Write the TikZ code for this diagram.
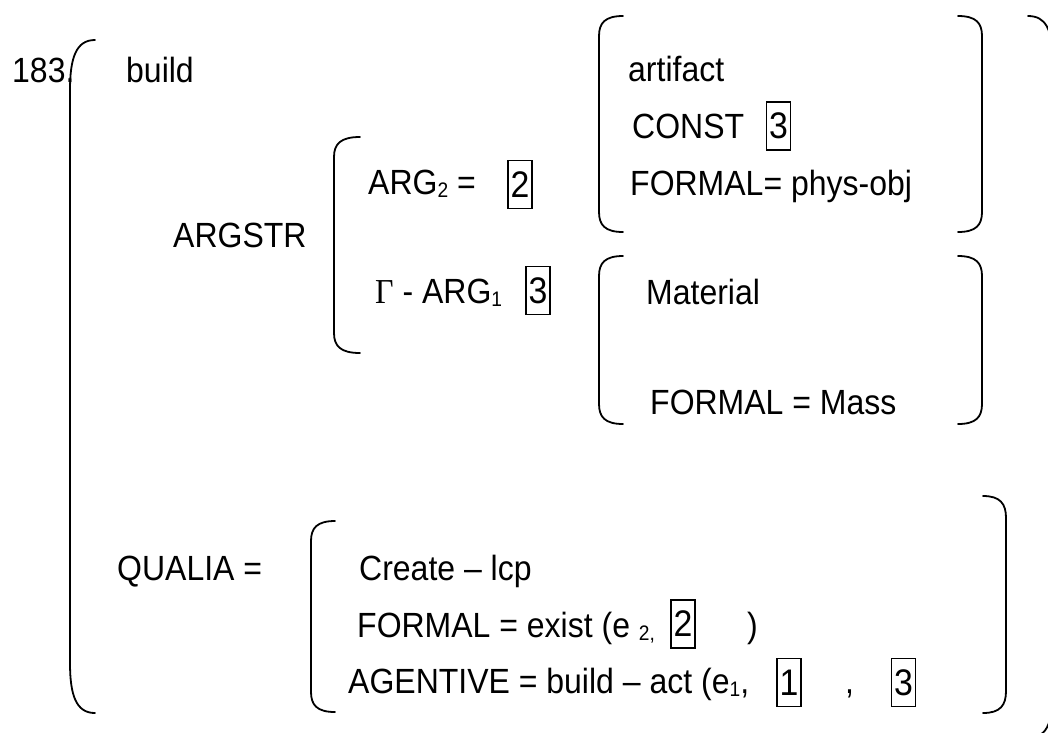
\documentclass[tikz,border=0pt]{standalone}
\usepackage{fontspec}
\setmainfont[FakeStretch=0.914]{Liberation Sans}
\newfontfamily\serifGamma[FakeStretch=0.914]{Liberation Serif}
\newcommand\subs[1]{\raisebox{-3pt}{\fontsize{21}{21}\selectfont #1}}
% left bracket: xv, xe, ytop, ybot, h
\newcommand\LBrk[5]{%
  \draw[brk] ({#2},{#3}) .. controls ({#1+0.25*(#2-#1)},{#3}) and ({#1},{#3+0.35*#5}) .. ({#1},{#3+#5})
    -- ({#1},{#4-#5}) .. controls ({#1},{#4-0.35*#5}) and ({#1+0.25*(#2-#1)},{#4}) .. ({#2},{#4});}
\newcommand\RBrk[5]{%
  \draw[brk] ({#2},{#3}) .. controls ({#1-0.25*(#1-#2)},{#3}) and ({#1},{#3+0.35*#5}) .. ({#1},{#3+#5})
    -- ({#1},{#4-#5}) .. controls ({#1},{#4-0.35*#5}) and ({#1-0.25*(#1-#2)},{#4}) .. ({#2},{#4});}
\begin{document}
\begin{tikzpicture}[x=1pt,y=-1pt,
  brk/.style={line width=1.8pt, line cap=round},
  txt/.style={inner sep=0pt, anchor=base west, font=\fontsize{35}{40}\selectfont},
  numbox/.style={draw, line width=1.3pt, minimum width=24pt, minimum height=48pt, inner sep=0pt, font=\fontsize{37}{42}\selectfont}]
\useasboundingbox (0,0) rectangle (1048,732);
\clip (0,0) rectangle (1048,732);
% brackets
\LBrk{70}{95}{40}{713}{50}
\RBrk{1052}{1028}{16}{738}{40}
\LBrk{334}{360}{137}{353}{20}
\LBrk{599}{623}{16}{232}{20}
\RBrk{982}{958}{16}{232}{20}
\LBrk{599}{623}{256}{424}{20}
\RBrk{982}{958}{256}{424}{20}
\LBrk{311}{335}{521}{712}{20}
\RBrk{1006}{983}{496}{713}{22}
% texts
\node[txt] (num) at (12,82) {183.};
\node[txt] (build) at (126,82) {build};
\node[txt] (argstr) at (173,247) {ARGSTR};
\node[txt] (arg2) at (368,194) {ARG\subs{2} =};
\node[numbox] (b2a) at (520,184.5) {2};
\node[txt] (garg1) at (375,303) {{\serifGamma Γ} - ARG\subs{1}};
\node[numbox] (b3a) at (538,290.5) {3};
\node[txt] (artifact) at (628,81) {artifact};
\node[txt] (const) at (632,138) {CONST};
\node[numbox] (b3b) at (778.5,126) {3};
\node[txt] (formal1) at (630,195) {FORMAL= phys-obj};
\node[txt] (material) at (646,304) {Material};
\node[txt] (formal2) at (650,414) {FORMAL = Mass};
\node[txt] (qualia) at (117,580) {QUALIA =};
\node[txt] (create) at (359,580) {Create – lcp};
\node[txt] (formal3) at (357,637) {FORMAL = exist (e \subs{2,}};
\node[numbox] (b2b) at (683,624) {2};
\node[txt] (rpar) at (747,637) {)};
\node[txt] (agentive) at (348,693) {AGENTIVE = build – act (e\subs{1},};
\node[numbox] (b1) at (789,682.5) {1};
\node[txt] (comma) at (845,693) {,};
\node[numbox] (b3c) at (903.5,682.5) {3};
\end{tikzpicture}
\end{document}
